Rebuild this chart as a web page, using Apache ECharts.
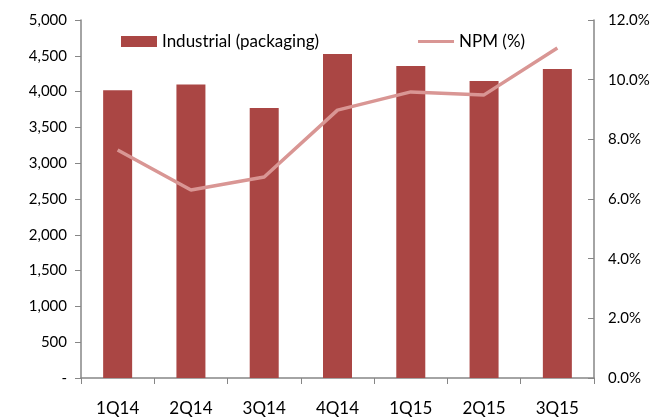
<!DOCTYPE html>
<html>
<head>
<meta charset="utf-8">
<script src="https://cdn.jsdelivr.net/npm/echarts@6/dist/echarts.min.js"></script>
<style>
html, body { margin: 0; padding: 0; background: #fff; }
#Chart { width: 661px; height: 418px; }
</style>
</head>
<body>
<div id="Chart"></div>
<script>
var quarters = ['1Q14', '2Q14', '3Q14', '4Q14', '1Q15', '2Q15', '3Q15'];
var industrial = [4020, 4100, 3770, 4525, 4358, 4148, 4316];
var npm = [7.64, 6.30, 6.74, 8.98, 9.59, 9.49, 11.06];

var axisColor = '#868686';
var fontName = 'Lato';

var myChart = echarts.init(document.getElementById('Chart'));
var option = {
    animation: false,
    textStyle: { fontFamily: fontName },
    grid: { left: 81, right: 67, top: 20, bottom: 40 },
    legend: {
        top: 28,
        left: 116,
        itemGap: 99,
        itemWidth: 36,
        itemHeight: 11,
        textStyle: { fontSize: 17, color: '#000', fontFamily: fontName },
        data: [
            { name: 'Industrial (packaging)', icon: 'rect' },
            { name: 'NPM (%)', icon: 'path://M0,0 L36,0 L36,3 L0,3 Z' }
        ]
    },
    xAxis: {
        type: 'category',
        data: quarters,
        axisLine: { lineStyle: { color: axisColor, width: 1.5 } },
        axisTick: { show: true, length: 6, lineStyle: { color: axisColor } },
        axisLabel: { color: '#000', fontSize: 17, margin: 22 }
    },
    yAxis: [
        {
            type: 'value',
            min: 0, max: 5000, interval: 500,
            axisLine: { show: true, lineStyle: { color: axisColor, width: 1.5 } },
            axisTick: { show: true, length: 6, lineStyle: { color: axisColor } },
            splitLine: { show: false },
            axisLabel: {
                color: '#000', fontSize: 15, margin: 14,
                formatter: function (v) { return v === 0 ? '-' : v.toLocaleString('en-US'); }
            }
        },
        {
            type: 'value',
            min: 0, max: 12, interval: 2,
            position: 'right',
            axisLine: { show: true, lineStyle: { color: axisColor, width: 1.5 } },
            axisTick: { show: true, inside: true, length: 6, lineStyle: { color: axisColor } },
            splitLine: { show: false },
            axisLabel: {
                color: '#000', fontSize: 15, margin: 14,
                formatter: function (v) { return v.toFixed(1) + '%'; }
            }
        }
    ],
    series: [
        {
            name: 'Industrial (packaging)',
            type: 'bar',
            barWidth: 29,
            itemStyle: { color: '#AA4644' },
            data: industrial
        },
        {
            name: 'NPM (%)',
            type: 'line',
            yAxisIndex: 1,
            symbol: 'none',
            lineStyle: { color: '#D99694', width: 3.5 },
            itemStyle: { color: '#D99694' },
            data: npm
        }
    ]
};
myChart.setOption(option);
</script>
</body>
</html>
